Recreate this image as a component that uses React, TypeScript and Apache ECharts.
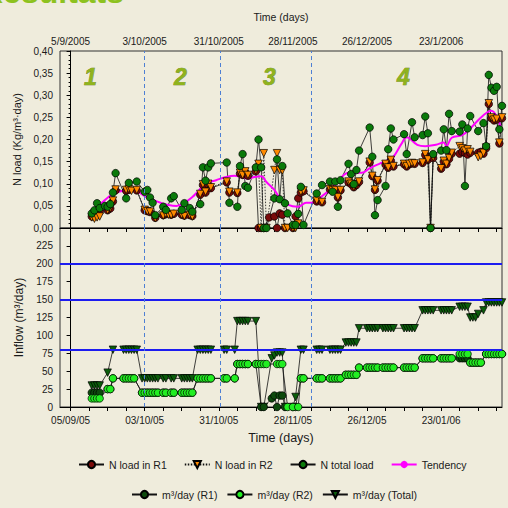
import React, { useEffect, useRef } from 'react';
import * as echarts from 'echarts';

type Pt = [number, number];

// x values are days counted from 5 September 2005 (day 0)
const START_UTC = Date.UTC(2005, 8, 5);
const X_MIN = -4;
const X_MAX = 163;
const DATE_LABEL_DAYS = [0, 28, 56, 84, 112, 140];
const WEEK_TICK_DAYS = Array.from({ length: 24 }, (_, i) => i * 7);
const PHASE_BOUNDS = [28, 56.5, 91];
const FLOW_REFERENCE_LINES = [80, 150, 200];
const PHASE_LABELS = ['1', '2', '3', '4'];

const nLoadR1: Pt[] = [
  [8, 0.026], [9, 0.030], [10, 0.030], [11, 0.038], [14, 0.040], [15, 0.044], [16, 0.060], [17, 0.085],
  [21, 0.084], [22, 0.086], [25, 0.085], [28, 0.040], [29, 0.038], [30, 0.036], [32, 0.023], [35, 0.029],
  [36, 0.031], [38, 0.030], [39, 0.032], [42, 0.030], [43, 0.028], [45, 0.029], [46, 0.027], [49, 0.075],
  [50, 0.097], [51, 0.080], [52, 0.098], [53, 0.090], [59, 0.103], [60, 0.080], [63, 0.079], [64, 0.123],
  [65, 0.120], [66, 0.126], [67, 0.118], [70, 0.128], [71, 0], [72, 0], [73, 0], [75, 0.024], [77, 0.026],
  [78, 0], [79, 0.033], [80, 0.030], [81, 0], [84, 0], [85, 0.026], [86, 0.067], [87, 0.080], [88, 0.083],
  [93, 0.060], [95, 0.058], [98, 0.087], [99, 0.084], [100, 0.085], [101, 0.069], [102, 0.085], [105, 0.103],
  [106, 0.099], [107, 0.092], [108, 0.097], [109, 0.104], [113, 0.148], [114, 0.117], [115, 0.086], [116, 0.107],
  [119, 0.143], [120, 0.136], [121, 0.152], [122, 0.139], [126, 0.144], [127, 0.139], [128, 0.144], [129, 0.146],
  [130, 0.145], [133, 0.147], [134, 0.165], [135, 0.154], [136, 0], [137, 0.158], [140, 0.134], [141, 0.150],
  [142, 0.144], [143, 0.156], [144, 0.168], [147, 0.168], [148, 0.172], [149, 0.170], [150, 0.166], [151, 0.170],
  [154, 0.170], [155, 0.172], [156, 0.168], [157, 0.180], [158, 0.280], [159, 0.248], [160, 0.243], [161, 0.245],
  [162, 0.191], [163, 0.248],
];

const nLoadR2: Pt[] = [
  [8, 0.024], [9, 0.021], [10, 0.024], [11, 0.026], [14, 0.040], [15, 0.045], [16, 0.062], [17, 0.087],
  [21, 0.086], [22, 0.088], [23, 0.084], [25, 0.086], [28, 0.041], [29, 0.038], [30, 0.037], [32, 0.022],
  [35, 0.028], [36, 0.032], [37, 0.030], [38, 0.029], [39, 0.032], [42, 0.030], [43, 0.027], [45, 0.030],
  [46, 0.026], [49, 0.077], [50, 0.099], [51, 0.082], [52, 0.100], [53, 0.092], [59, 0.105], [60, 0.082],
  [63, 0.080], [64, 0.125], [65, 0.120], [66, 0.128], [67, 0.120], [70, 0.130], [71, 0.145], [72, 0],
  [73, 0.169], [74, 0], [77, 0.131], [78, 0.169], [79, 0.131], [80, 0.130], [81, 0], [82, 0], [84, 0],
  [85, 0], [86, 0.010], [87, 0.082], [88, 0.085], [93, 0.062], [95, 0.059], [98, 0.088], [99, 0.085],
  [100, 0.086], [101, 0.070], [102, 0.086], [105, 0.105], [106, 0.100], [107, 0.093], [108, 0.098], [109, 0.105],
  [113, 0.150], [114, 0.118], [115, 0.087], [116, 0.108], [119, 0.145], [120, 0.137], [121, 0.154], [122, 0.140],
  [126, 0.145], [127, 0.140], [128, 0.145], [129, 0.147], [130, 0.146], [133, 0.148], [134, 0.167], [135, 0.155],
  [136, 0], [137, 0.160], [140, 0.135], [141, 0.152], [142, 0.145], [143, 0.158], [144, 0.170], [147, 0.185],
  [148, 0.180], [149, 0.175], [150, 0.178], [151, 0.172], [154, 0.160], [155, 0.163], [156, 0.170], [157, 0.182],
  [158, 0.282], [159, 0.250], [160, 0.245], [161, 0.247], [162, 0.193], [163, 0.250],
];

const nLoadTotal: Pt[] = [
  [8, 0.033], [9, 0.040], [10, 0.056], [11, 0.045], [13, 0.050], [14, 0.048], [15, 0.054], [16, 0.080],
  [17, 0.124], [21, 0.067], [22, 0.102], [25, 0.105], [28, 0.082], [29, 0.086], [30, 0.069], [31, 0.057],
  [32, 0.029], [35, 0.048], [36, 0.041], [38, 0.067], [39, 0.072], [42, 0.041], [43, 0.056], [45, 0.045],
  [46, 0.037], [49, 0.054], [50, 0.137], [51, 0.107], [52, 0.137], [53, 0.146], [59, 0.148], [60, 0.057],
  [63, 0.048], [64, 0.140], [65, 0.167], [66, 0.095], [67, 0.091], [70, 0.137], [71, 0.200], [72, 0.137],
  [73, 0], [74, 0], [77, 0.067], [78, 0.155], [79, 0.065], [80, 0.140], [81, 0.056], [82, 0.033],
  [84, 0.007], [85, 0.007], [86, 0.032], [87, 0.093], [88, 0.007], [93, 0.078], [95, 0.097], [98, 0.105],
  [99, 0.082], [100, 0.105], [101, 0.048], [102, 0.108], [105, 0.145], [106, 0.122], [107, 0.099], [108, 0.131],
  [109, 0.175], [113, 0.227], [114, 0.161], [115, 0.029], [116, 0.063], [119, 0.095], [120, 0.178], [121, 0.225],
  [122, 0.200], [126, 0.212], [127, 0.167], [129, 0.239], [130, 0.205], [133, 0.210], [134, 0.252], [135, 0.214],
  [136, 0], [137, 0.167], [140, 0.175], [141, 0.223], [142, 0.176], [143, 0.258], [144, 0.219], [147, 0.218],
  [148, 0.234], [149, 0.095], [150, 0.225], [151, 0.253], [154, 0.219], [156, 0.237], [157, 0.185], [158, 0.346],
  [159, 0.317], [160, 0.310], [161, 0.319], [162, 0.223], [163, 0.276],
];

const tendency: Pt[] = [
  [8, 0.039], [12, 0.058], [16, 0.077], [20, 0.084], [23, 0.086], [26, 0.080], [28, 0.072], [31, 0.064],
  [34, 0.057], [37, 0.052], [40, 0.050], [43, 0.057], [46, 0.070], [48, 0.082], [51, 0.100], [55, 0.108],
  [58, 0.114], [62, 0.118], [64, 0.116], [67, 0.112], [70, 0.116], [72, 0.117], [74, 0.104], [77, 0.086],
  [79, 0.068], [82, 0.053], [86, 0.048], [89, 0.057], [91, 0.057], [95, 0.072], [100, 0.097], [105, 0.125],
  [110, 0.125], [113, 0.135], [117, 0.146], [120, 0.154], [122, 0.161], [125, 0.190], [127, 0.205], [131, 0.188],
  [134, 0.185], [138, 0.188], [141, 0.193], [142, 0.185], [144, 0.204], [148, 0.210], [151, 0.225], [156, 0.255],
  [159, 0.265], [161, 0.252], [163, 0.218],
];

const flowR1: Pt[] = [
  [8, 20], [9, 20], [10, 20], [11, 20], [14, 25], [15, 25], [16, 40], [20, 40], [21, 40], [22, 40], [23, 40],
  [24, 40], [27, 20], [28, 20], [29, 20], [30, 20], [31, 20], [32, 20], [33, 20], [35, 20], [36, 20], [38, 20],
  [39, 20], [42, 20], [43, 20], [44, 20], [45, 20], [46, 20], [48, 40], [49, 40], [50, 40], [51, 40], [52, 40],
  [53, 40], [58, 40], [59, 40], [62, 40], [63, 60], [64, 60], [65, 60], [66, 60], [67, 60], [70, 60], [72, 0],
  [73, 0], [76, 12], [77, 16], [78, 0], [79, 16], [80, 16], [81, 0], [84, 0], [85, 0], [87, 40], [88, 40],
  [93, 40], [94, 40], [95, 40], [98, 40], [99, 40], [100, 40], [101, 40], [102, 40], [104, 45], [105, 45],
  [106, 45], [107, 45], [108, 45], [109, 55], [112, 55], [113, 55], [114, 55], [115, 55], [116, 55], [118, 55],
  [119, 55], [120, 55], [121, 55], [122, 55], [126, 55], [127, 55], [128, 55], [129, 55], [130, 55], [133, 68],
  [134, 68], [135, 68], [136, 68], [137, 68], [140, 68], [141, 68], [142, 68], [143, 68], [144, 68], [147, 68],
  [148, 68], [149, 68], [150, 68], [151, 62], [152, 62], [153, 62], [154, 62], [155, 62], [157, 74], [158, 74],
  [159, 74], [160, 74], [161, 74], [162, 74], [163, 74],
];

const flowR2: Pt[] = [
  [8, 12], [9, 12], [10, 12], [11, 12], [14, 25], [15, 25], [16, 40], [20, 40], [21, 40], [22, 40], [23, 40],
  [24, 40], [27, 20], [28, 20], [29, 20], [30, 20], [31, 20], [32, 20], [33, 20], [35, 20], [36, 20], [38, 20],
  [39, 20], [42, 20], [43, 20], [44, 20], [45, 20], [46, 20], [48, 40], [49, 40], [50, 40], [51, 40], [52, 40],
  [53, 40], [58, 40], [59, 40], [62, 40], [63, 60], [64, 60], [65, 60], [66, 60], [67, 60], [70, 60], [71, 60],
  [72, 60], [73, 60], [74, 60], [78, 60], [79, 60], [80, 60], [82, 0], [84, 0], [86, 0], [87, 40], [88, 40],
  [93, 40], [94, 40], [95, 40], [98, 40], [99, 40], [100, 40], [101, 40], [102, 40], [104, 45], [105, 45],
  [106, 45], [107, 45], [108, 45], [109, 55], [112, 55], [113, 55], [114, 55], [115, 55], [116, 55], [118, 55],
  [119, 55], [120, 55], [121, 55], [122, 55], [126, 55], [127, 55], [128, 55], [129, 55], [130, 55], [133, 68],
  [134, 68], [135, 68], [136, 68], [137, 68], [140, 68], [141, 68], [142, 68], [143, 68], [144, 68], [147, 74],
  [148, 74], [149, 74], [150, 74], [151, 62], [152, 62], [153, 62], [154, 62], [155, 62], [157, 74], [158, 74],
  [159, 74], [160, 74], [161, 74], [162, 74], [163, 74],
];

const flowTotal: Pt[] = [
  [8, 30], [9, 30], [10, 30], [11, 30], [14, 48], [16, 80], [20, 80], [21, 80], [22, 80], [23, 80], [24, 80],
  [25, 80], [27, 40], [28, 40], [29, 40], [30, 40], [31, 40], [32, 40], [33, 40], [35, 40], [36, 40], [38, 40],
  [39, 40], [42, 40], [43, 40], [44, 40], [45, 40], [46, 40], [48, 80], [49, 80], [50, 80], [51, 80], [52, 80],
  [53, 80], [58, 80], [59, 80], [62, 80], [63, 120], [64, 120], [65, 120], [66, 120], [67, 120], [70, 120],
  [72, 0], [73, 0], [76, 68], [77, 72], [78, 76], [79, 76], [80, 76], [81, 0], [84, 0], [85, 14], [87, 80],
  [88, 80], [93, 80], [94, 80], [95, 80], [98, 80], [99, 80], [100, 80], [101, 80], [102, 80], [104, 90],
  [105, 90], [106, 90], [107, 90], [108, 90], [109, 110], [112, 110], [113, 110], [114, 110], [115, 110],
  [116, 110], [118, 110], [119, 110], [120, 110], [121, 110], [122, 110], [126, 110], [127, 110], [128, 110],
  [129, 110], [130, 110], [133, 135], [134, 135], [135, 135], [136, 135], [137, 135], [140, 135], [141, 135],
  [142, 135], [143, 135], [144, 135], [147, 140], [148, 140], [149, 140], [150, 140], [151, 125], [152, 125],
  [153, 125], [154, 130], [156, 135], [157, 146], [158, 146], [159, 146], [160, 146], [161, 146], [162, 146],
  [163, 146],
];

const FONT = "'Liberation Sans', Arial, Helvetica, sans-serif";
const TXT = '#1a1a1a';

const pad2 = (n: number) => (n < 10 ? '0' + n : String(n));
const dateOf = (v: number) => new Date(START_UTC + Math.round(v) * 86400000);
const fmtLong = (v: number) => {
  const d = dateOf(v);
  return `${d.getUTCDate()}/${d.getUTCMonth() + 1}/${d.getUTCFullYear()}`;
};
const fmtShort = (v: number) => {
  const d = dateOf(v);
  return `${pad2(d.getUTCDate())}/${pad2(d.getUTCMonth() + 1)}/${pad2(d.getUTCFullYear() % 100)}`;
};

const phaseMarkLine = {
  silent: true,
  symbol: 'none',
  label: { show: false },
  lineStyle: { color: '#4d7fd4', type: [4, 3], width: 1 },
  data: PHASE_BOUNDS.map((x) => ({ xAxis: x })),
};

function markerSeries(
  name: string,
  data: Pt[],
  gridIdx: number,
  symbol: string,
  color: string,
  dotted = false,
  rotate = 0
) {
  return {
    name,
    type: 'line',
    xAxisIndex: gridIdx,
    yAxisIndex: gridIdx,
    data,
    symbol,
    symbolSize: 7.5,
    symbolRotate: rotate,
    showSymbol: true,
    lineStyle: { color: '#111', width: 0.8, type: dotted ? [1.5, 1.5] : 'solid' },
    itemStyle: { color, borderColor: '#000', borderWidth: 0.7 },
    emphasis: { disabled: true },
  };
}

export default function App() {
  const ref = useRef<HTMLDivElement>(null);

  useEffect(() => {
    if (!ref.current) return;
    const chart = echarts.init(ref.current, undefined, { renderer: 'svg' });

    const xCommon = {
      type: 'value',
      min: X_MIN,
      max: X_MAX,
      splitLine: { show: false },
      axisLine: { show: true, lineStyle: { color: '#000', width: 1 } },
    };

    const phaseText = (text: string, x: number) => ({
      type: 'text',
      x,
      y: 65,
      silent: true,
      style: {
        text,
        font: `italic bold 23px ${FONT}`,
        fill: '#8fb31d',
        stroke: '#5c7410',
        lineWidth: 0.6,
        shadowColor: 'rgba(60,70,20,0.7)',
        shadowOffsetX: -1.5,
        shadowOffsetY: 1,
        shadowBlur: 0,
      },
    });

    const legendText = { fontSize: 10.5, color: TXT, fontFamily: FONT };

    const option: any = {
      animation: false,
      backgroundColor: '#efecdc',
      textStyle: { fontFamily: FONT, color: TXT },
      grid: [
        { left: 60, top: 51, width: 442, height: 177, show: true, borderColor: '#333', borderWidth: 1, backgroundColor: 'transparent' },
        { left: 60, top: 228, width: 442, height: 179, show: true, borderColor: '#333', borderWidth: 1, backgroundColor: 'transparent' },
      ],
      xAxis: [
        {
          ...xCommon,
          gridIndex: 0,
          position: 'top',
          name: 'Time (days)',
          nameLocation: 'middle',
          nameGap: 29,
          nameTextStyle: { fontSize: 10.5, color: TXT, fontFamily: FONT },
          axisTick: { show: true, inside: true, length: 4, customValues: WEEK_TICK_DAYS, lineStyle: { color: '#000' } },
          axisLabel: { customValues: DATE_LABEL_DAYS, formatter: fmtLong, fontSize: 10, color: TXT, margin: 5, fontFamily: FONT },
        },
        {
          ...xCommon,
          gridIndex: 1,
          position: 'bottom',
          name: 'Time (days)',
          nameLocation: 'middle',
          nameGap: 24,
          nameTextStyle: { fontSize: 12.5, color: TXT, fontFamily: FONT },
          axisTick: { show: true, inside: false, length: 4, customValues: WEEK_TICK_DAYS, lineStyle: { color: '#000' } },
          axisLabel: { customValues: DATE_LABEL_DAYS, formatter: fmtShort, fontSize: 10, color: TXT, margin: 8, fontFamily: FONT },
        },
      ],
      yAxis: [
        {
          type: 'value',
          gridIndex: 0,
          min: 0,
          max: 0.4,
          interval: 0.05,
          name: 'N load (Kg/m³·day)',
          nameLocation: 'middle',
          nameGap: 34,
          nameTextStyle: { fontSize: 11, color: TXT, fontFamily: FONT },
          splitLine: { show: false },
          axisLine: { show: true, lineStyle: { color: '#000' } },
          axisTick: { show: true, length: 4, lineStyle: { color: '#000' } },
          minorTick: { show: true, splitNumber: 5, length: 2, lineStyle: { color: '#000' } },
          axisLabel: { fontSize: 10, color: TXT, margin: 7, formatter: (v: number) => v.toFixed(2).replace('.', ','), fontFamily: FONT },
        },
        {
          type: 'value',
          gridIndex: 1,
          min: 0,
          max: 250,
          interval: 25,
          name: 'Inflow (m³/day)',
          nameLocation: 'middle',
          nameGap: 34,
          nameTextStyle: { fontSize: 12, color: TXT, fontFamily: FONT },
          splitLine: { show: false },
          axisLine: { show: true, lineStyle: { color: '#000' } },
          axisTick: { show: true, length: 4, lineStyle: { color: '#000' } },
          axisLabel: { fontSize: 10, color: TXT, margin: 7, formatter: (v: number) => (v >= 250 ? '' : String(v)), fontFamily: FONT },
        },
      ],
      legend: [
        {
          left: 78,
          top: 459,
          padding: 0,
          itemWidth: 25,
          itemHeight: 9,
          itemGap: 17,
          textStyle: legendText,
          data: ['N load in R1', 'N load in R2', 'N total load', 'Tendency'],
        },
        {
          left: 131,
          top: 489,
          padding: 0,
          itemWidth: 25,
          itemHeight: 9,
          itemGap: 9,
          textStyle: legendText,
          data: ['m³/day (R1)', 'm³/day (R2)', 'm³/day (Total)'],
        },
      ],
      graphic: [
        {
          type: 'text',
          x: -20,
          y: -24,
          silent: true,
          style: { text: 'Resultats', font: `bold 32px ${FONT}`, fill: '#8dc21f' },
        },
        phaseText(PHASE_LABELS[0], 84),
        phaseText(PHASE_LABELS[1], 174),
        phaseText(PHASE_LABELS[2], 263),
        phaseText(PHASE_LABELS[3], 397),
      ],
      series: [
        {
          ...markerSeries('N load in R1', nLoadR1, 0, 'circle', '#7a0a0a'),
          markLine: phaseMarkLine,
        },
        markerSeries('N load in R2', nLoadR2, 0, 'triangle', '#ff8a00', true, 180),
        markerSeries('N total load', nLoadTotal, 0, 'circle', '#0a7a0a'),
        {
          name: 'Tendency',
          type: 'line',
          xAxisIndex: 0,
          yAxisIndex: 0,
          data: tendency,
          smooth: 0.4,
          showSymbol: false,
          symbol: 'none',
          lineStyle: { color: '#ff00ff', width: 2 },
          itemStyle: { color: '#ff00ff' },
          emphasis: { disabled: true },
        },
        {
          ...markerSeries('m³/day (Total)', flowTotal, 1, 'triangle', '#0b5e0b', false, 180),
          markLine: {
            silent: true,
            symbol: 'none',
            label: { show: false },
            data: [
              ...FLOW_REFERENCE_LINES.map((y) => ({ yAxis: y, lineStyle: { color: '#1c1cf0', width: 2, type: 'solid' } })),
              ...PHASE_BOUNDS.map((x) => ({ xAxis: x, lineStyle: { color: '#4d7fd4', width: 1, type: [4, 3] } })),
            ],
          },
        },
        markerSeries('m³/day (R1)', flowR1, 1, 'circle', '#0d4a0d'),
        markerSeries('m³/day (R2)', flowR2, 1, 'circle', '#22ee22'),
      ],
    };

    chart.setOption(option);
    return () => chart.dispose();
  }, []);

  return (
    <div
      ref={ref}
      style={{ position: 'fixed', left: 0, top: 0, width: 508, height: 508, background: '#efecdc' }}
    />
  );
}
